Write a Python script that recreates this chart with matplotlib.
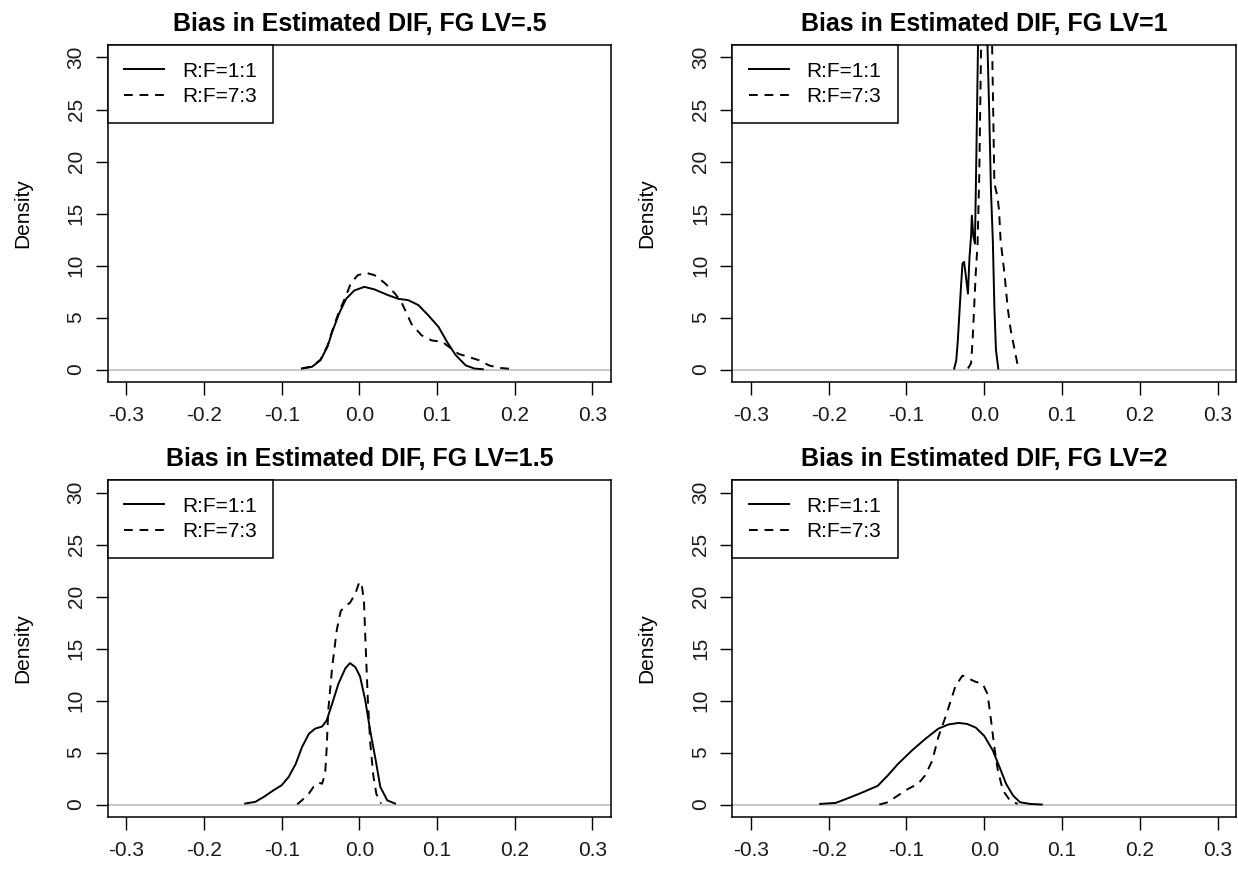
import numpy as np
import matplotlib
matplotlib.use("Agg")
import matplotlib.pyplot as plt

plt.rcParams['font.family'] = ['Liberation Sans', 'DejaVu Sans']

# density curves, one pair (R:F=1:1 solid, R:F=7:3 dashed) per panel
titles = ["Bias in Estimated DIF, FG LV=.5", "Bias in Estimated DIF, FG LV=1",
          "Bias in Estimated DIF, FG LV=1.5", "Bias in Estimated DIF, FG LV=2"]
labels = ["R:F=1:1", "R:F=7:3"]

lv05_x_11 = [-0.074, -0.061, -0.050, -0.041, -0.035, -0.026, -0.017, -0.0065, 0.0065, 0.0196,
             0.037, 0.050, 0.063, 0.076, 0.089, 0.102, 0.113, 0.124, 0.137, 0.148, 0.159]
lv05_d_11 = [0.1, 0.26, 0.9, 2.2, 3.6, 5.4, 6.8, 7.6, 7.95, 7.7,
             7.15, 6.8, 6.67, 6.2, 5.2, 4.1, 2.66, 1.4, 0.4, 0.1, 0.03]
lv05_x_73 = [-0.074, -0.061, -0.050, -0.041, -0.035, -0.026, -0.017, -0.011, -0.002, 0.0087,
             0.0196, 0.033, 0.046, 0.054, 0.061, 0.067, 0.080, 0.093, 0.107, 0.115,
             0.128, 0.141, 0.154, 0.167, 0.180, 0.196]
lv05_d_73 = [0.1, 0.3, 0.95, 2.3, 3.7, 5.6, 7.1, 8.3, 9.07, 9.3,
             9.07, 8.3, 7.3, 6.5, 5.4, 4.4, 3.3, 2.8, 2.66, 2.2,
             1.5, 1.2, 0.9, 0.4, 0.16, 0.06]

lv1_x_11 = [-0.0386, -0.036, -0.034, -0.032, -0.030, -0.028, -0.026, -0.024, -0.021, -0.019,
            -0.017, -0.016, -0.014, -0.012, -0.010, -0.008, -0.006, -0.002, 0.002, 0.004,
            0.0064, 0.0086, 0.011, 0.013, 0.015, 0.018]
lv1_d_11 = [0.1, 0.9, 2.8, 5.4, 7.9, 10.2, 10.35, 9.2, 7.3, 10.8,
            12.8, 14.8, 12.8, 12.1, 21.4, 31.5, 35.0, 40.0, 36.0, 31.5,
            24.6, 17.2, 12.4, 6.0, 1.9, 0.1]
lv1_x_73 = [-0.021, -0.017, -0.015, -0.013, -0.011, -0.0086, -0.0064, -0.004, -0.002, 0.003,
            0.008, 0.010, 0.013, 0.017, 0.019, 0.021, 0.026, 0.030, 0.034, 0.039, 0.043, 0.045]
lv1_d_73 = [0.1, 0.6, 2.8, 6.0, 9.2, 12.1, 18.8, 31.5, 38.0, 45.0,
            38.0, 31.5, 17.9, 16.6, 15.3, 12.4, 9.2, 6.0, 3.8, 1.9, 0.4, 0.1]

lv15_x_11 = [-0.147, -0.134, -0.123, -0.110, -0.100, -0.091, -0.082, -0.074, -0.065, -0.057,
             -0.048, -0.042, -0.035, -0.027, -0.018, -0.012, -0.005, 0.001, 0.0077, 0.014,
             0.021, 0.027, 0.036, 0.046]
lv15_d_11 = [0.1, 0.26, 0.74, 1.4, 1.86, 2.66, 3.9, 5.5, 6.8, 7.3,
             7.5, 8.1, 9.7, 11.6, 13.1, 13.6, 13.2, 12.3, 10.0, 7.1,
             4.3, 1.7, 0.4, 0.1]
lv15_x_73 = [-0.080, -0.074, -0.065, -0.059, -0.052, -0.048, -0.044, -0.042, -0.040, -0.035,
             -0.029, -0.024, -0.018, -0.012, -0.005, 0.0, 0.003, 0.006, 0.008, 0.011,
             0.014, 0.018, 0.022, 0.028]
lv15_d_73 = [0.03, 0.4, 1.06, 1.7, 2.1, 2.0, 3.0, 5.5, 9.1, 13.2,
             16.8, 18.6, 19.1, 19.4, 20.3, 21.4, 21.2, 19.5, 15.5, 10.0,
             6.0, 2.8, 1.0, 0.1]

lv2_x_11 = [-0.211, -0.191, -0.172, -0.154, -0.137, -0.124, -0.111, -0.093, -0.076, -0.059,
            -0.046, -0.033, -0.022, -0.011, 0.0, 0.011, 0.0196, 0.028, 0.037, 0.046, 0.059, 0.074]
lv2_d_11 = [0.06, 0.16, 0.7, 1.25, 1.8, 2.8, 3.9, 5.2, 6.3, 7.3,
            7.7, 7.85, 7.75, 7.4, 6.6, 5.2, 3.6, 2.0, 0.87, 0.22, 0.06, 0.0]
lv2_x_73 = [-0.135, -0.124, -0.111, -0.098, -0.085, -0.076, -0.067, -0.059, -0.050, -0.043,
            -0.037, -0.028, -0.020, -0.011, -0.002, 0.0043, 0.0087, 0.013, 0.0174, 0.024, 0.033, 0.043]
lv2_d_73 = [0.0, 0.22, 0.87, 1.5, 2.0, 2.8, 4.2, 6.5, 8.4, 10.0,
            11.4, 12.4, 12.1, 11.8, 11.6, 10.6, 8.1, 5.5, 3.3, 1.35, 0.4, 0.06]

curves = [(lv05_x_11, lv05_d_11, lv05_x_73, lv05_d_73),
          (lv1_x_11, lv1_d_11, lv1_x_73, lv1_d_73),
          (lv15_x_11, lv15_d_11, lv15_x_73, lv15_d_73),
          (lv2_x_11, lv2_d_11, lv2_x_73, lv2_d_73)]

xticks = [-0.3, -0.2, -0.1, 0.0, 0.1, 0.2, 0.3]
yticks = [0, 5, 10, 15, 20, 25, 30]

fig = plt.figure(figsize=(12.38, 8.69), dpi=100)
rects = [[0.0871, 0.5604, 0.4063, 0.3878], [0.5915, 0.5604, 0.4071, 0.3878],
         [0.0871, 0.0598, 0.4063, 0.3878], [0.5915, 0.0598, 0.4071, 0.3878]]

fs = 15
for i in range(4):
    ax = fig.add_axes(rects[i])
    x1, d1, x2, d2 = curves[i]
    ax.axhline(0, color='#BEBEBE', lw=1.2, zorder=1)
    ax.plot(x1, d1, color='black', lw=1.4, label=labels[0])
    ax.plot(x2, d2, color='black', lw=1.4, dashes=(4.5, 3.5), label=labels[1])
    ax.set_xlim(-0.324, 0.324)
    ax.set_ylim(-1.2, 31.2)
    ax.set_xticks(xticks)
    ax.set_xticklabels(["%.1f" % v for v in xticks])
    ax.set_yticks(yticks)
    ax.tick_params(direction='out', length=9, width=1.0, labelsize=fs, pad=8,
                   labelcolor='#1a1a1a')
    ax.tick_params(axis='y', pad=7)
    for lab in ax.get_yticklabels():
        lab.set_rotation(90)
        lab.set_va('center')
    for sp in ax.spines.values():
        sp.set_linewidth(1.1)
    ax.set_title(titles[i], fontsize=18, fontweight='bold', pad=10)
    ax.set_ylabel('Density', fontsize=fs)
    ax.yaxis.set_label_coords(-0.151, 0.5)
    leg = ax.legend(loc='upper left', bbox_to_anchor=(0, 1), borderaxespad=0,
                    fontsize=fs, fancybox=False, framealpha=1, edgecolor='black',
                    handlelength=1.9, handletextpad=0.85, borderpad=0.8, labelspacing=0.32)
    leg.get_frame().set_linewidth(1.1)

fig.savefig('out.png', dpi=100)
